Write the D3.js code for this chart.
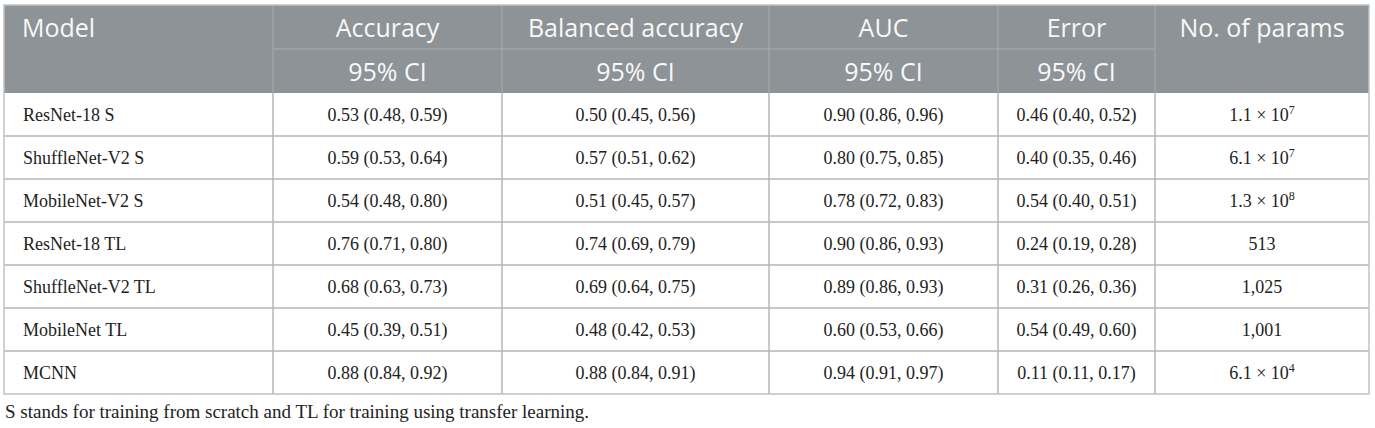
<!DOCTYPE html>
<html>
<head>
<meta charset="utf-8">
<script src="https://cdn.jsdelivr.net/npm/d3@7"></script>
<style>
  body { margin: 0; background: #fff; }
</style>
</head>
<body>
<script>
// table data
const headers = ["Model", "Accuracy", "Balanced accuracy", "AUC", "Error", "No. of params"]
const subHeader = "95% CI"
const models = ["ResNet-18 S", "ShuffleNet-V2 S", "MobileNet-V2 S", "ResNet-18 TL", "ShuffleNet-V2 TL", "MobileNet TL", "MCNN"]
const accuracy = ["0.53 (0.48, 0.59)", "0.59 (0.53, 0.64)", "0.54 (0.48, 0.80)", "0.76 (0.71, 0.80)", "0.68 (0.63, 0.73)", "0.45 (0.39, 0.51)", "0.88 (0.84, 0.92)"]
const balanced = ["0.50 (0.45, 0.56)", "0.57 (0.51, 0.62)", "0.51 (0.45, 0.57)", "0.74 (0.69, 0.79)", "0.69 (0.64, 0.75)", "0.48 (0.42, 0.53)", "0.88 (0.84, 0.91)"]
const auc = ["0.90 (0.86, 0.96)", "0.80 (0.75, 0.85)", "0.78 (0.72, 0.83)", "0.90 (0.86, 0.93)", "0.89 (0.86, 0.93)", "0.60 (0.53, 0.66)", "0.94 (0.91, 0.97)"]
const error = ["0.46 (0.40, 0.52)", "0.40 (0.35, 0.46)", "0.54 (0.40, 0.51)", "0.24 (0.19, 0.28)", "0.31 (0.26, 0.36)", "0.54 (0.49, 0.60)", "0.11 (0.11, 0.17)"]
// params: [mantissa, exponent] or plain text
const params = [["1.1", "7"], ["6.1", "7"], ["1.3", "8"], ["513"], ["1,025"], ["1,001"], ["6.1", "4"]]
const footnote = "S stands for training from scratch and TL for training using transfer learning."

// layout
const W = 1375, H = 428
const colEdges = [4, 273, 502, 769, 998, 1155, 1369]
const headTop = 5, headMid = 49, headBottom = 93, tableBottom = 394

const serif = "'Liberation Serif', 'DejaVu Serif', serif"
const sans = "'Open Sans', 'Noto Sans', sans-serif"

const svg = d3.select("body").append("svg")
    .attr("width", W)
    .attr("height", H)

const cols = d3.range(headers.length)
const colLeft = i => colEdges[i]
const colCenter = i => (colEdges[i] + colEdges[i + 1]) / 2

const y = d3.scaleBand()
    .domain(models)
    .range([headBottom, tableBottom])

// header background
svg.append("rect")
    .attr("x", colEdges[0])
    .attr("y", headTop)
    .attr("width", colEdges[6] - colEdges[0])
    .attr("height", headBottom - headTop)
    .attr("fill", "#8d9396")

// light lines inside header
const headLines = svg.append("g").attr("stroke", "#a9aeb0").attr("stroke-width", 1)
headLines.selectAll("line.v")
    .data(colEdges.slice(1, 6))
    .enter()
    .append("line")
    .attr("x1", d => d).attr("x2", d => d)
    .attr("y1", headTop).attr("y2", headBottom)
headLines.append("line")
    .attr("x1", colEdges[1]).attr("x2", colEdges[5])
    .attr("y1", headMid).attr("y2", headMid)

// header texts
svg.append("g").selectAll("text")
    .data(cols)
    .enter()
    .append("text")
    .text(i => headers[i])
    .attr("x", i => i === 0 ? colLeft(0) + 18 : colCenter(i))
    .attr("y", 37)
    .attr("text-anchor", i => i === 0 ? "start" : "middle")
    .attr("font-family", sans)
    .attr("font-size", 25)
    .attr("fill", "#f8f8f8")

svg.append("g").selectAll("text")
    .data([1, 2, 3, 4])
    .enter()
    .append("text")
    .text(subHeader)
    .attr("x", i => colCenter(i))
    .attr("y", 81)
    .attr("text-anchor", "middle")
    .attr("font-family", sans)
    .attr("font-size", 25)
    .attr("fill", "#f8f8f8")

// body grid
const grid = svg.append("g").attr("stroke", "#b6b6b6").attr("stroke-width", 1.5).attr("fill", "none")
grid.selectAll("line.h")
    .data(models.slice(1))
    .enter()
    .append("line")
    .attr("x1", colEdges[0]).attr("x2", colEdges[6])
    .attr("y1", d => y(d)).attr("y2", d => y(d))
grid.selectAll("line.v")
    .data(colEdges.slice(1, 6))
    .enter()
    .append("line")
    .attr("x1", d => d).attr("x2", d => d)
    .attr("y1", headBottom).attr("y2", tableBottom)
grid.append("rect")
    .attr("x", colEdges[0])
    .attr("y", headTop)
    .attr("width", colEdges[6] - colEdges[0])
    .attr("height", tableBottom - headTop)
    .attr("stroke", "#c2c2c2")

// body cells
const columns = [models, accuracy, balanced, auc, error]
const body = svg.append("g")
    .attr("font-family", serif)
    .attr("font-size", 18)
    .attr("fill", "#222")

columns.forEach((col, c) => {
    body.selectAll(null)
        .data(col)
        .enter()
        .append("text")
        .text(d => d)
        .attr("x", c === 0 ? colLeft(0) + 19 : colCenter(c))
        .attr("y", (d, i) => y(models[i]) + y.bandwidth() / 2)
        .attr("dy", "0.35em")
        .attr("text-anchor", c === 0 ? "start" : "middle")
})

const pText = body.selectAll(null)
    .data(params)
    .enter()
    .append("text")
    .attr("x", colCenter(5))
    .attr("y", (d, i) => y(models[i]) + y.bandwidth() / 2)
    .attr("dy", "0.35em")
    .attr("text-anchor", "middle")

pText.append("tspan")
    .text(d => d.length > 1 ? d[0] + " \u00d7 10" : d[0])
pText.filter(d => d.length > 1)
    .append("tspan")
    .text(d => d[1])
    .attr("font-size", 12)
    .attr("dy", "-0.6em")

// footnote
svg.append("text")
    .text(footnote)
    .attr("x", 5)
    .attr("y", 418)
    .attr("font-family", serif)
    .attr("font-size", 19)
    .attr("fill", "#222")
</script>
</body>
</html>
